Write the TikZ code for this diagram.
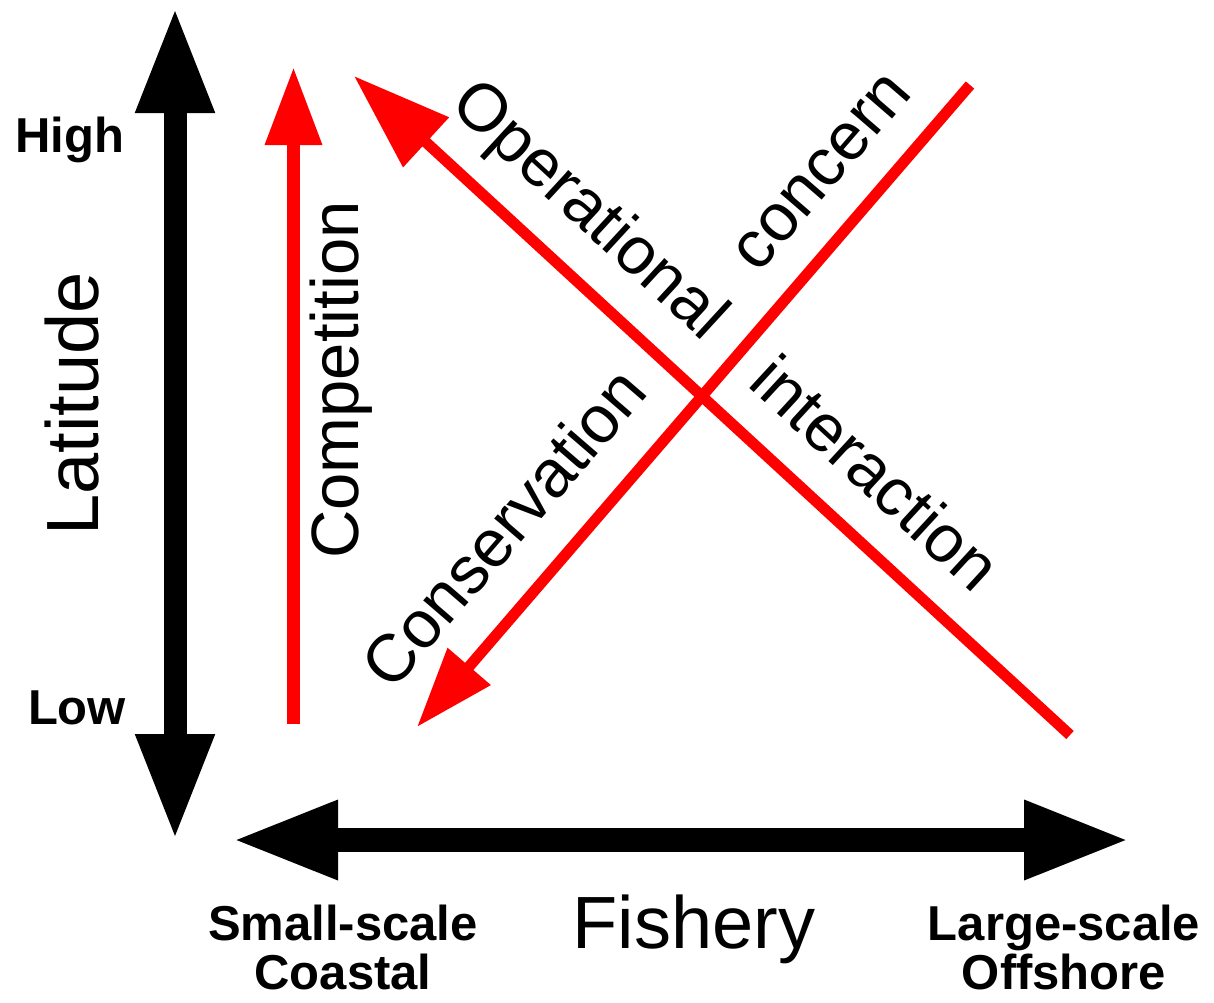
\documentclass[tikz,border=0pt]{standalone}
\usepackage{fontspec}
\setmainfont{Liberation Sans}
\usetikzlibrary{arrows.meta}
\tikzset{
  bigtip/.tip={Triangle[length=106pt,width=73pt]},
  axisline/.style={draw=black, line width=23pt, bigtip-bigtip},
  trendline/.style={draw=red, line width=11pt},
  axistitle/.style={font=\fontsize{74}{74}\selectfont, inner sep=0pt, anchor=base},
  trendtext/.style={font=\fontsize{67}{67}\selectfont, inner sep=0pt, anchor=base},
  endtext/.style={font=\bfseries\fontsize{49}{49}\selectfont, inner sep=0pt, anchor=base},
}
\begin{document}
\begin{tikzpicture}[x=1pt,y=-1pt]
  \useasboundingbox (0,0) rectangle (1214,1002);
  % axes
  \coordinate (latN) at (175,7);
  \coordinate (latS) at (175,840);
  \coordinate (fishW) at (232,840);
  \coordinate (fishE) at (1130,840);
  \draw[axisline] (latN) -- (latS);
  \draw[axisline, line width=24pt] (fishW) -- (fishE);
  \node[endtext] (high) at (70,152) {High};
  \node[endtext] (low) at (77,724) {Low};
  \node[axistitle, rotate=90] (latitude) at (98,404) {Latitude};
  \node[axistitle] (fishery) at (694,948) {Fishery};
  % base of a two-line node is its last line
  \node[endtext, align=center] (small) at (343,989) {Small-scale\\Coastal};
  \node[endtext, align=center] (large) at (1064,989) {Large-scale\\Offshore};
  % trends
  \coordinate (compS) at (293.5,724);
  \coordinate (compN) at (293.5,67);
  \coordinate (opS) at (1070,735);
  \coordinate (opN) at (354,76);
  \coordinate (consN) at (970,85);
  \coordinate (consS) at (417,727);
  \draw[trendline, line width=13pt, -{Triangle[length=78pt,width=54pt]}] (compS) -- (compN);
  \draw[trendline, -{Triangle[length=98pt,width=65pt]}] (opS) -- (opN);
  \draw[trendline, -{Triangle[length=80pt,width=54pt]}] (consN) -- (consS);
  \node[trendtext, rotate=90] (competition) at (358,380) {Competition};
  \node[trendtext, rotate=-42.6] (operational) at (576,225) {Operational};
  \node[trendtext, rotate=-42.6] (interaction) at (860,490) {interaction};
  \node[trendtext, rotate=49.2] (concern) at (836,184) {concern};
  \node[trendtext, rotate=49.2] (conservation) at (521,543) {Conservation};
\end{tikzpicture}
\end{document}
